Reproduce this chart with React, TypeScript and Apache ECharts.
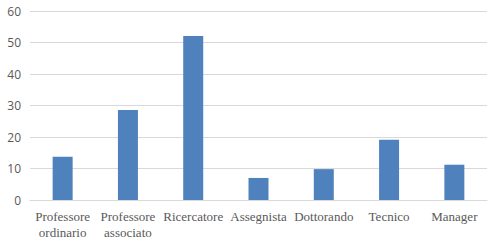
import React, { useEffect, useRef } from "react";
import * as echarts from "echarts";

const categories = [
  "Professore\nordinario",
  "Professore\nassociato",
  "Ricercatore",
  "Assegnista",
  "Dottorando",
  "Tecnico",
  "Manager",
];
const values = [13.7, 28.6, 52.1, 7.0, 9.8, 19.1, 11.2];
const yTicks = { min: 0, max: 60, interval: 10 };

export default function App() {
  const ref = useRef<HTMLDivElement>(null);
  useEffect(() => {
    if (!ref.current) return;
    const chart = echarts.init(ref.current, undefined, { renderer: "svg" });
    chart.setOption({
      animation: false,
      backgroundColor: "#ffffff",
      grid: { left: 30, right: 5, top: 11, bottom: 46, containLabel: false },
      xAxis: {
        type: "category",
        data: categories,
        axisLine: { show: true, lineStyle: { color: "#d9d9d9", width: 1 } },
        axisTick: { show: false },
        axisLabel: {
          interval: 0,
          color: "#595959",
          fontFamily: "'Liberation Serif', 'Times New Roman', serif",
          fontSize: 13,
          lineHeight: 16,
          margin: 8,
        },
      },
      yAxis: {
        type: "value",
        min: yTicks.min,
        max: yTicks.max,
        interval: yTicks.interval,
        axisLine: { show: false },
        axisTick: { show: false },
        splitLine: { lineStyle: { color: "#d9d9d9", width: 1 } },
        axisLabel: {
          color: "#595959",
          fontFamily: "'Open Sans', sans-serif",
          fontSize: 12,
          margin: 9,
        },
      },
      series: [
        {
          type: "bar",
          data: values,
          barWidth: 20,
          itemStyle: { color: "#4f81bd" },
        },
      ],
    });
    return () => chart.dispose();
  }, []);
  return (
    <div
      ref={ref}
      style={{ position: "fixed", left: 0, top: 0, width: 492, height: 246 }}
    />
  );
}
